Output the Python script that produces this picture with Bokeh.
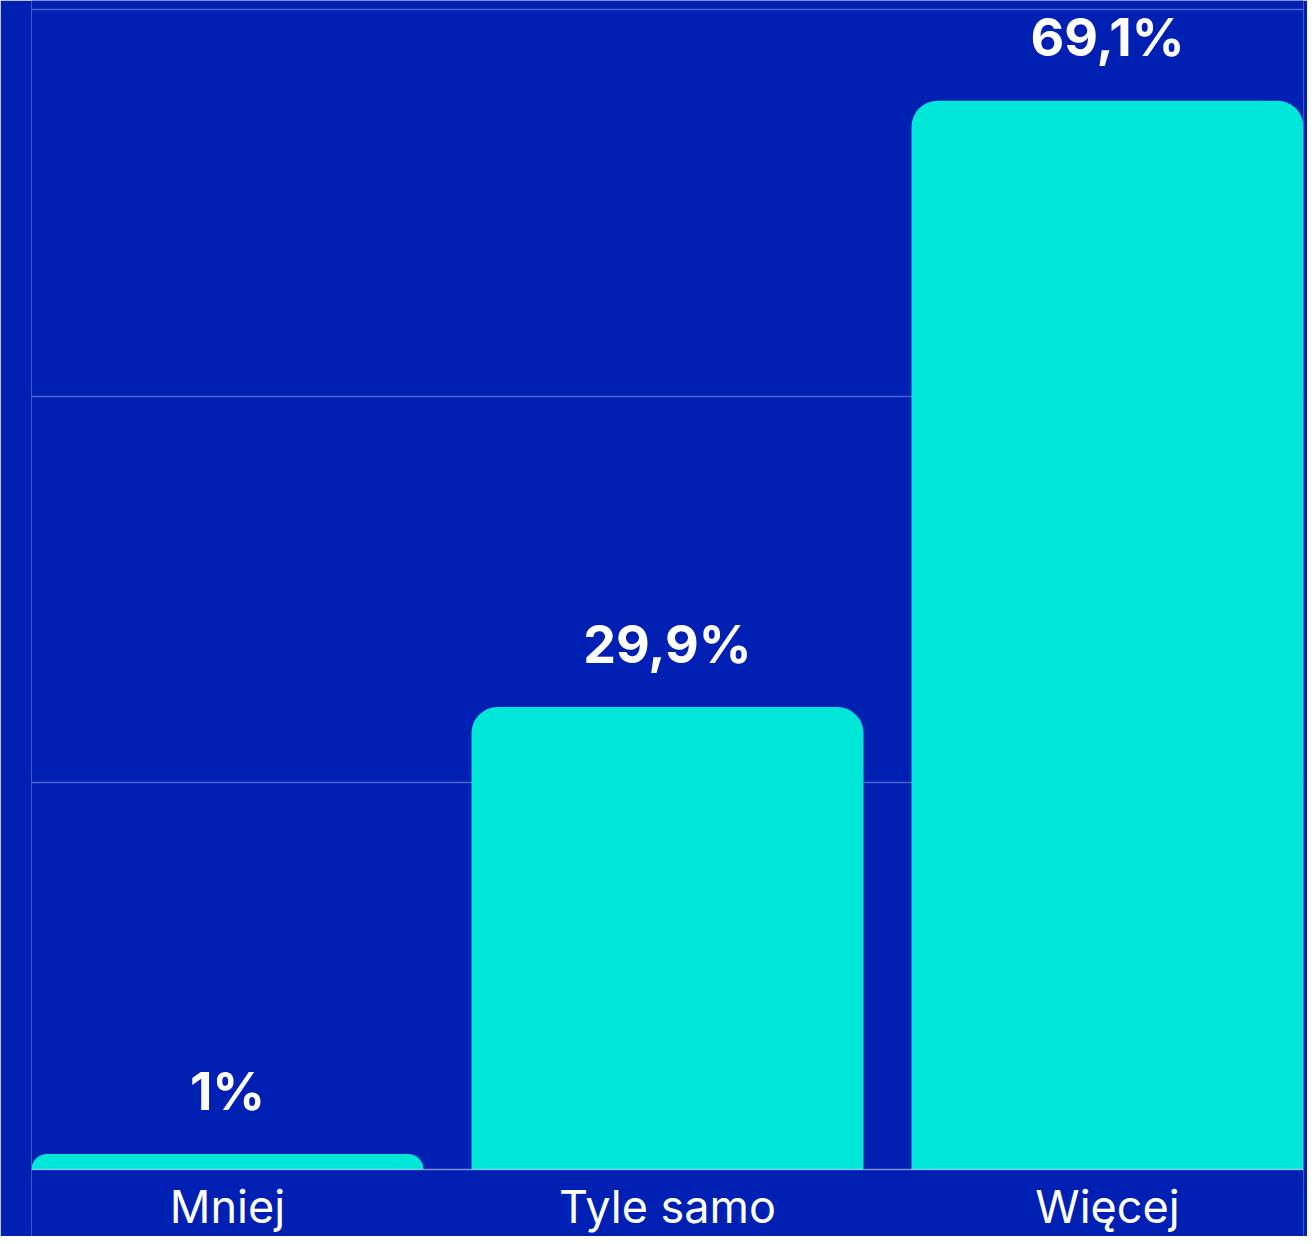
from bokeh.plotting import figure
from bokeh.models import ColumnDataSource, Range1d, FixedTicker, Span
from bokeh.core.properties import value
from bokeh.embed import file_html
from bokeh.resources import INLINE

categories = ["Mniej", "Tyle samo", "Więcej"]
values = [1.0, 29.9, 69.1]
labels = ["1%", "29,9%", "69,1%"]
grid_ticks = [25, 50, 75]

BG = "#0020B3"
BAR = "#00E6D8"
FONT = "Inter"

xs = list(range(len(categories)))
bar_w = 392 / 440
src = ColumnDataSource(dict(x=xs, top=values, label=labels,
                            base=[0] * len(xs), cat=categories))

p = figure(width=1307, height=1236, output_backend="svg", toolbar_location=None,
           x_range=Range1d(-bar_w / 2, len(categories) - 1 + bar_w / 2),
           y_range=Range1d(-4.33, 75.58),
           min_border_left=31, min_border_right=4, min_border_top=0, min_border_bottom=0)
p.background_fill_color = BG
p.border_fill_color = BG
p.outline_line_color = None
p.xaxis.visible = False
p.yaxis.visible = False

p.xgrid.visible = False
p.ygrid.ticker = FixedTicker(ticks=grid_ticks)
p.ygrid.grid_line_color = "white"
p.ygrid.grid_line_alpha = 0.3
p.ygrid.grid_line_width = 1.5

p.vbar(x="x", top="top", bottom=0, width=bar_w, source=src, fill_color=BAR,
       line_color=None, border_radius=(26, 26, 0, 0))

p.add_layout(Span(location=0, dimension="width", line_color="white",
                  line_alpha=0.5, line_width=1.5))

p.text(x="x", y="top", text="label", source=src, text_align="center",
       text_baseline="alphabetic", y_offset=-63, text_color="white",
       text_font=value(FONT), text_font_style="bold", text_font_size="52px")

p.text(x="x", y="base", text="cat", source=src, text_align="center",
       text_baseline="alphabetic", y_offset=37, text_color="white",
       text_font=value(FONT), text_font_size="45px")

open("out.html", "w").write(file_html(p, INLINE))
